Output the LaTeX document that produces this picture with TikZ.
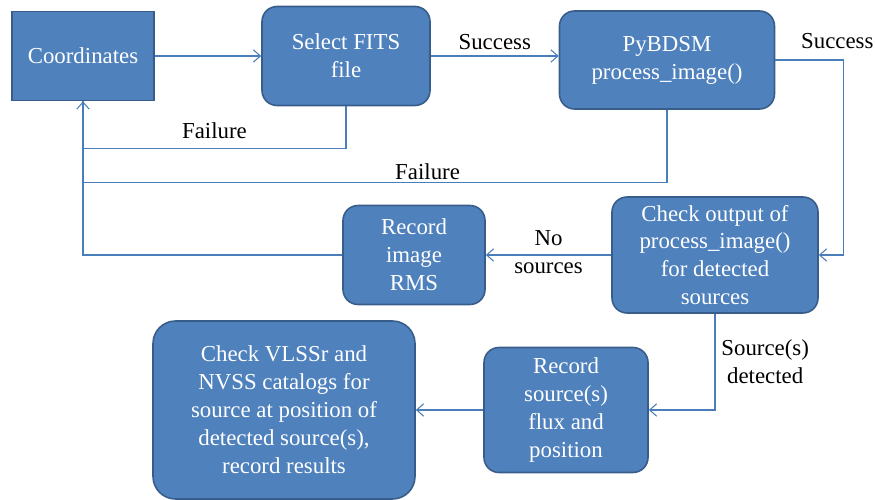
\documentclass[tikz,border=0pt]{standalone}
\usepackage{fontspec}
\setmainfont{Liberation Serif}
\usetikzlibrary{shapes.geometric, arrows.meta}
\definecolor{BoxFill}{HTML}{4F81BD}
\definecolor{BoxEdge}{HTML}{385D8A}
\definecolor{WireCol}{HTML}{4A7EBB}
\tikzstyle{input} = [rectangle, minimum width=2.84cm, minimum height=1.78cm, text centered, draw=BoxEdge, line width=0.9pt, fill=BoxFill, text=white, font=\fontsize{13}{15.9}\selectfont]
\tikzstyle{process} = [rectangle, rounded corners=0.3cm, align=center, inner sep=1pt, draw=BoxEdge, line width=0.9pt, fill=BoxFill, text=white, font=\fontsize{13}{15.9}\selectfont]
\tikzstyle{wire} = [draw=WireCol, line width=0.6pt]
\tikzstyle{arrow} = [wire, -{Straight Barb[length=4pt, width=7pt]}]
\tikzstyle{tag} = [align=center, text=black, font=\fontsize{13}{15.9}\selectfont]

\begin{document}
\begin{tikzpicture}[node distance=2cm]

\useasboundingbox (-1.66,1.12) rectangle (15.84,-8.88);

\node (coord) [input] {Coordinates};
\node (select) [process, right of=coord, xshift=3.26cm, minimum width=3.36cm, minimum height=1.98cm] {Select FITS\\file};
\node (bdsm) [process, right of=select, xshift=4.42cm, yshift=-0.08cm, minimum width=4.3cm, minimum height=1.96cm] {PyBDSM\\process\_image()};

\node (check) [process, below of=bdsm, xshift=0.96cm, yshift=-1.9cm, minimum width=4.12cm, minimum height=2.32cm] {Check output of\\process\_image()\\for detected\\sources};
\node (rms) [process, left of=check, xshift=-4.02cm, minimum width=2.84cm, minimum height=1.98cm] {Record\\image\\RMS};

\node (recsrc) [process, below of=check, xshift=-2.98cm, yshift=-1.1cm, minimum width=3.28cm, minimum height=2.5cm] {Record\\source(s)\\flux and\\position};
\node (vlss) [process, left of=recsrc, xshift=-3.64cm, rounded corners=0.45cm, minimum width=5.24cm, minimum height=3.56cm] {Check VLSSr and\\NVSS catalogs for\\source at position of\\detected source(s),\\record results};

\draw [arrow] (coord) -- (select);
\draw [arrow] (select.east) -- node[tag, above] {Success} (select.east -| bdsm.west);
\draw [arrow] (bdsm.east) -- ++(1.36,0) node[tag, above, xshift=-0.12cm, yshift=0.1cm] {Success} |- (check.east);

% failure paths back to the start
\draw [wire] (select.south) -- ++(0,-0.84) -| node[tag, pos=0.25, above, yshift=0.06cm] {Failure} (coord.south);
\draw [wire] (bdsm.south) -- ++(0,-1.46) -| node[tag, pos=0.205, above, yshift=-2pt] {Failure} (coord.south);

\draw [arrow] (check) -- node[tag, yshift=0.06cm] {No\\sources} (rms);
\draw [arrow] (rms.west) -| (coord.south);

\draw [arrow] (check.south) |- node[tag, pos=0.25, right] {Source(s)\\detected} (recsrc.east);
\draw [arrow] (recsrc) -- (vlss);

\end{tikzpicture}
\end{document}
